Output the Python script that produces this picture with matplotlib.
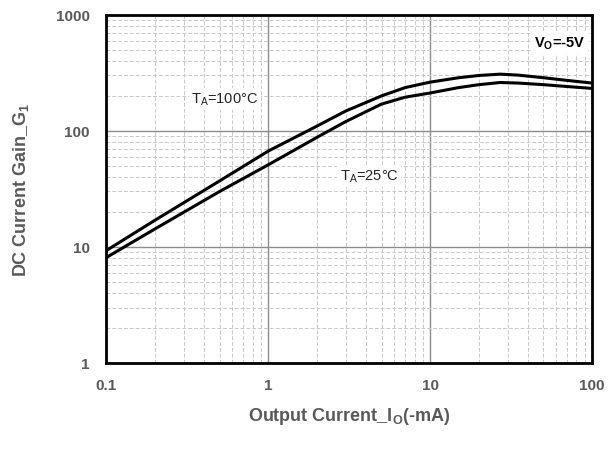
import matplotlib
matplotlib.use("Agg")
import matplotlib.pyplot as plt
from matplotlib.ticker import LogLocator, FixedLocator, FixedFormatter, NullFormatter

plt.rcParams['font.family'] = ['Liberation Sans', 'DejaVu Sans']
plt.rcParams['mathtext.fontset'] = 'custom'
plt.rcParams['mathtext.rm'] = 'Liberation Sans'
plt.rcParams['mathtext.bf'] = 'Liberation Sans:bold'
plt.rcParams['mathtext.it'] = 'Liberation Sans'

# Data
io_ma = [0.1, 0.2, 0.5, 1, 2, 3, 5, 7, 10, 15, 20, 27, 35, 50, 70, 100]
gain_100c = [9.3, 17, 37, 67, 110, 148, 200, 236, 263, 287, 300, 308, 302, 287, 272, 258]
gain_25c = [8.1, 14.3, 30, 51, 88, 120, 170, 195, 212, 236, 250, 261, 258, 250, 241, 232]

x_ticks = [0.1, 1, 10, 100]
x_ticklabels = ['0.1', '1', '10', '100']
y_ticks = [1, 10, 100, 1000]
y_ticklabels = ['1', '10', '100', '1000']

gray = '#595959'

fig = plt.figure(figsize=(6.08, 4.52), dpi=100)
ax = fig.add_axes([0.175, 0.195, 0.799, 0.770])
ax.set_xscale('log')
ax.set_yscale('log')
ax.set_xlim(0.1, 100)
ax.set_ylim(1, 1000)

ax.grid(which='major', color='#8c8c8c', linewidth=1.0, linestyle='-')
ax.grid(which='minor', color='#c8c8c8', linewidth=0.7, linestyle=(0, (4, 2)))
ax.set_axisbelow(True)

ax.plot(io_ma, gain_100c, color='black', linewidth=2.2, zorder=3)
ax.plot(io_ma, gain_25c, color='black', linewidth=2.2, zorder=3)

ax.xaxis.set_major_locator(FixedLocator(x_ticks))
ax.xaxis.set_major_formatter(FixedFormatter(x_ticklabels))
ax.yaxis.set_major_locator(FixedLocator(y_ticks))
ax.yaxis.set_major_formatter(FixedFormatter(y_ticklabels))
ax.xaxis.set_minor_locator(LogLocator(base=10, subs=range(2, 10)))
ax.yaxis.set_minor_locator(LogLocator(base=10, subs=range(2, 10)))
ax.xaxis.set_minor_formatter(NullFormatter())
ax.yaxis.set_minor_formatter(NullFormatter())
ax.tick_params(which='both', length=0)
ax.tick_params(axis='x', pad=11)
ax.tick_params(axis='y', pad=12)
for lab in ax.get_xticklabels() + ax.get_yticklabels():
    lab.set_fontweight('bold')
    lab.set_color(gray)
    lab.set_fontsize(11)

for s in ax.spines.values():
    s.set_linewidth(2.0)
    s.set_color('black')

ax.set_xlabel(r'Output Current_I$_{\mathbf{O}}$(-mA)', fontsize=13, fontweight='bold',
              color=gray, labelpad=9)
ax.set_ylabel(r'DC Current Gain_G$_{\mathbf{1}}$', fontsize=13, fontweight='bold',
              color=gray, labelpad=18)

box = dict(facecolor='white', edgecolor='none', pad=2)
ax.text(0.54, 189, r'T$_{\mathrm{A}}$=100°C', fontsize=10.5, ha='center', va='center',
        color='#222222', bbox=box, zorder=4)
ax.text(4.2, 41, r'T$_{\mathrm{A}}$=25°C', fontsize=10.5, ha='center', va='center',
        color='#222222', bbox=box, zorder=4)
ax.text(63, 570, r'V$_{\mathbf{O}}$=-5V', fontsize=10.5, fontweight='bold', ha='center',
        va='center', color='black', bbox=box, zorder=4)

fig.savefig('out.png', dpi=100)
